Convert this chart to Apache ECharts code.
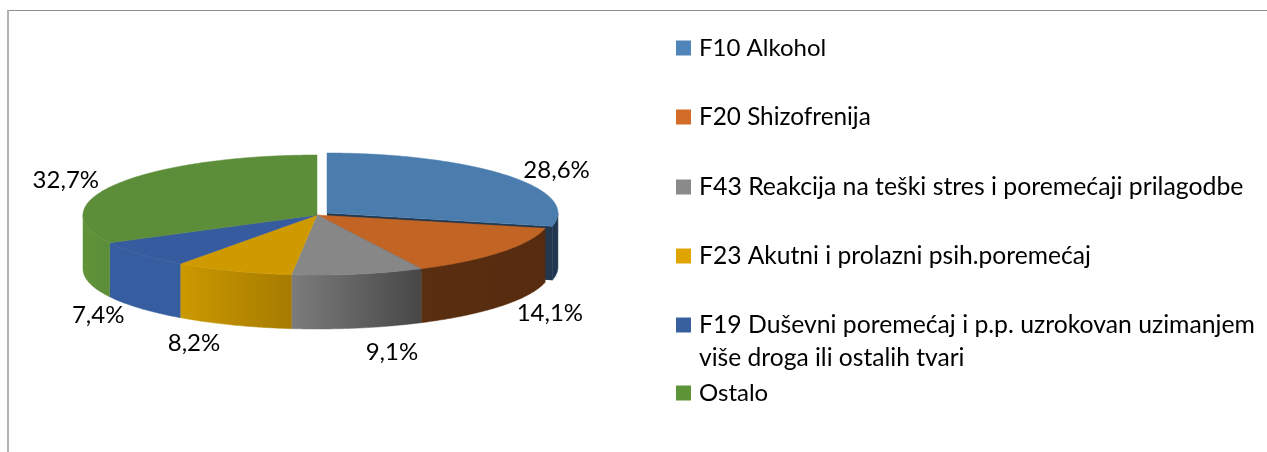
<!DOCTYPE html>
<html><head><meta charset="utf-8">
<style>html,body{margin:0;padding:0;background:#fff}#c{width:1267px;height:452px}</style>
<script src="https://cdn.jsdelivr.net/npm/echarts@6/dist/echarts.min.js"></script>
</head><body><div id="c"></div>
<script>
const categories = ['F10 Alkohol','F20 Shizofrenija','F43 Reakcija na teški stres i poremećaji prilagodbe','F23 Akutni i prolazni psih.poremećaj','F19 Duševni poremećaj i p.p. uzrokovan uzimanjem\nviše droga ili ostalih tvari','Ostalo'];
const values = [28.6,14.1,9.1,8.2,7.4,32.7];
const topColors = ['#4a7dae','#c26524','#878787','#cf9a00','#365b9e','#5c8d39'];
const wallFrom = ['#1f3650','#5a2e10','#7c7c7c','#cb9900','#365d9f','#609339'];
const wallTo = ['#22384f','#562b0f','#474747','#a67b00','#365d9f','#5c8d39'];
const legendColors = ['#4f85bb','#d26c28','#8a8a8a','#e0a500','#38609f','#5e9438'];
const legendCenters = [48,117,187,256,325,393];
const legendSizes = [24,24.3,24.8,24.6,24.75,24];
const labelNudge = [[49,-5],[49,61],[34,78],[-39,72],[-42,61],[-51,-4]];
const offsets = [[10,-2],[0,0],[0,0],[0,0],[0,0],[0,0]];
const radiusScale = [0.987,1,1,1,1,1];

const cx=317, cy=215, rx=234, ry=60, depth=54;
const total = values.reduce((a,b)=>a+b,0);
const FONT='Lato';
let cum=0;
const ranges = values.map(v=>{const s=cum/total*Math.PI*2;cum+=v;return [s,cum/total*Math.PI*2];});
const pt=(i,a,d)=>[cx+offsets[i][0]+rx*radiusScale[i]*Math.sin(a),cy+offsets[i][1]-ry*Math.cos(a)+(d||0)];
function arc(i,a,b,d){const n=Math.max(2,Math.ceil((b-a)/0.01));const r=[];for(let k=0;k<=n;k++)r.push(pt(i,a+(b-a)*k/n,d));return r;}
const HALF=Math.PI/2, TH=Math.PI*1.5;

function makeRender(i){
  return function(params,api){
    const v=api.value(0);
    const [s,e]=ranges[i];const ox=offsets[i][0],oy=offsets[i][1];
    const children=[];
    const ws=Math.max(s,HALF),we=Math.min(e,TH);
    const grad=new echarts.graphic.LinearGradient(0,0,1,0,[{offset:0,color:wallFrom[i]},{offset:1,color:wallTo[i]}]);
    if(i===0){ // cut face of the pulled-out slice
      const t=pt(i,e);
      children.push({type:'polygon',shape:{points:[[cx+ox,cy+oy],t,[t[0],t[1]+depth],[cx+ox,cy+oy+depth]]},style:{fill:wallTo[0]}});
    }
    if(we>ws){
      const pts=arc(i,ws,we,0).concat(arc(i,ws,we,depth).reverse());
      children.push({type:'polygon',shape:{points:pts},style:{fill:grad,stroke:grad,lineWidth:0.5}});
    }
    const top=[[cx+ox,cy+oy]].concat(arc(i,s,e,0));
    children.push({type:'polygon',shape:{points:top},style:{fill:topColors[i],stroke:topColors[i],lineWidth:0.5}});
    const m=(s+e)/2,p=pt(i,m);
    children.push({type:'text',z2:50,style:{x:p[0]+labelNudge[i][0],y:p[1]+labelNudge[i][1],text:v.toFixed(1).replace('.',',')+'%',fill:'#000',font:'24px '+FONT,align:'center',verticalAlign:'middle'}});
    return {type:'group',children};
  };
}

const series=categories.map((name,i)=>({type:'custom',name,coordinateSystem:'none',silent:true,animation:false,z:i===0?1:2+i,
  itemStyle:{color:legendColors[i]},data:[[values[i]]],renderItem:makeRender(i)}));

const legend=categories.map((name,i)=>{
  const two=name.includes('\n');
  const base={show:true,data:[{name,icon:'rect',itemStyle:{color:legendColors[i]}}],orient:'vertical',left:676,
    padding:0,itemWidth:15,itemHeight:15,itemGap:0,selectedMode:false};
  if(two){
    const parts=name.split('\n');
    return {...base,top:legendCenters[i]-49.5,formatter:()=>'{s|}\n{a|'+parts[0]+'}\n{b|'+parts[1]+'}',
      textStyle:{color:'#000',fontFamily:FONT,fontSize:24,lineHeight:33,
        rich:{s:{height:33,lineHeight:33,fontSize:24,padding:[0,0,0,3]},a:{fontSize:legendSizes[i],lineHeight:33,fontFamily:FONT,color:'#000',padding:[0,0,0,3]},b:{fontSize:24.6,lineHeight:33,fontFamily:FONT,color:'#000',padding:[0,0,0,3]}}}};
  }
  return {...base,top:legendCenters[i]-16.5,formatter:n=>'{a|'+n+'}',
    textStyle:{color:'#000',fontFamily:FONT,fontSize:legendSizes[i],lineHeight:33,
      rich:{a:{fontSize:legendSizes[i],lineHeight:33,fontFamily:FONT,color:'#000',padding:[0,0,0,3]}}}};
});

const chart=echarts.init(document.getElementById('c'),null,{renderer:'canvas'});
chart.setOption({animation:false,backgroundColor:'#fff',legend,series,
  graphic:[
    {type:'line',shape:{x1:7,y1:10.5,x2:1267,y2:10.5},style:{stroke:'#8f8f8f',lineWidth:1}},
    {type:'line',shape:{x1:8,y1:10,x2:8,y2:452},style:{stroke:'#b2b2b2',lineWidth:2}}
  ]});
</script></body></html>
